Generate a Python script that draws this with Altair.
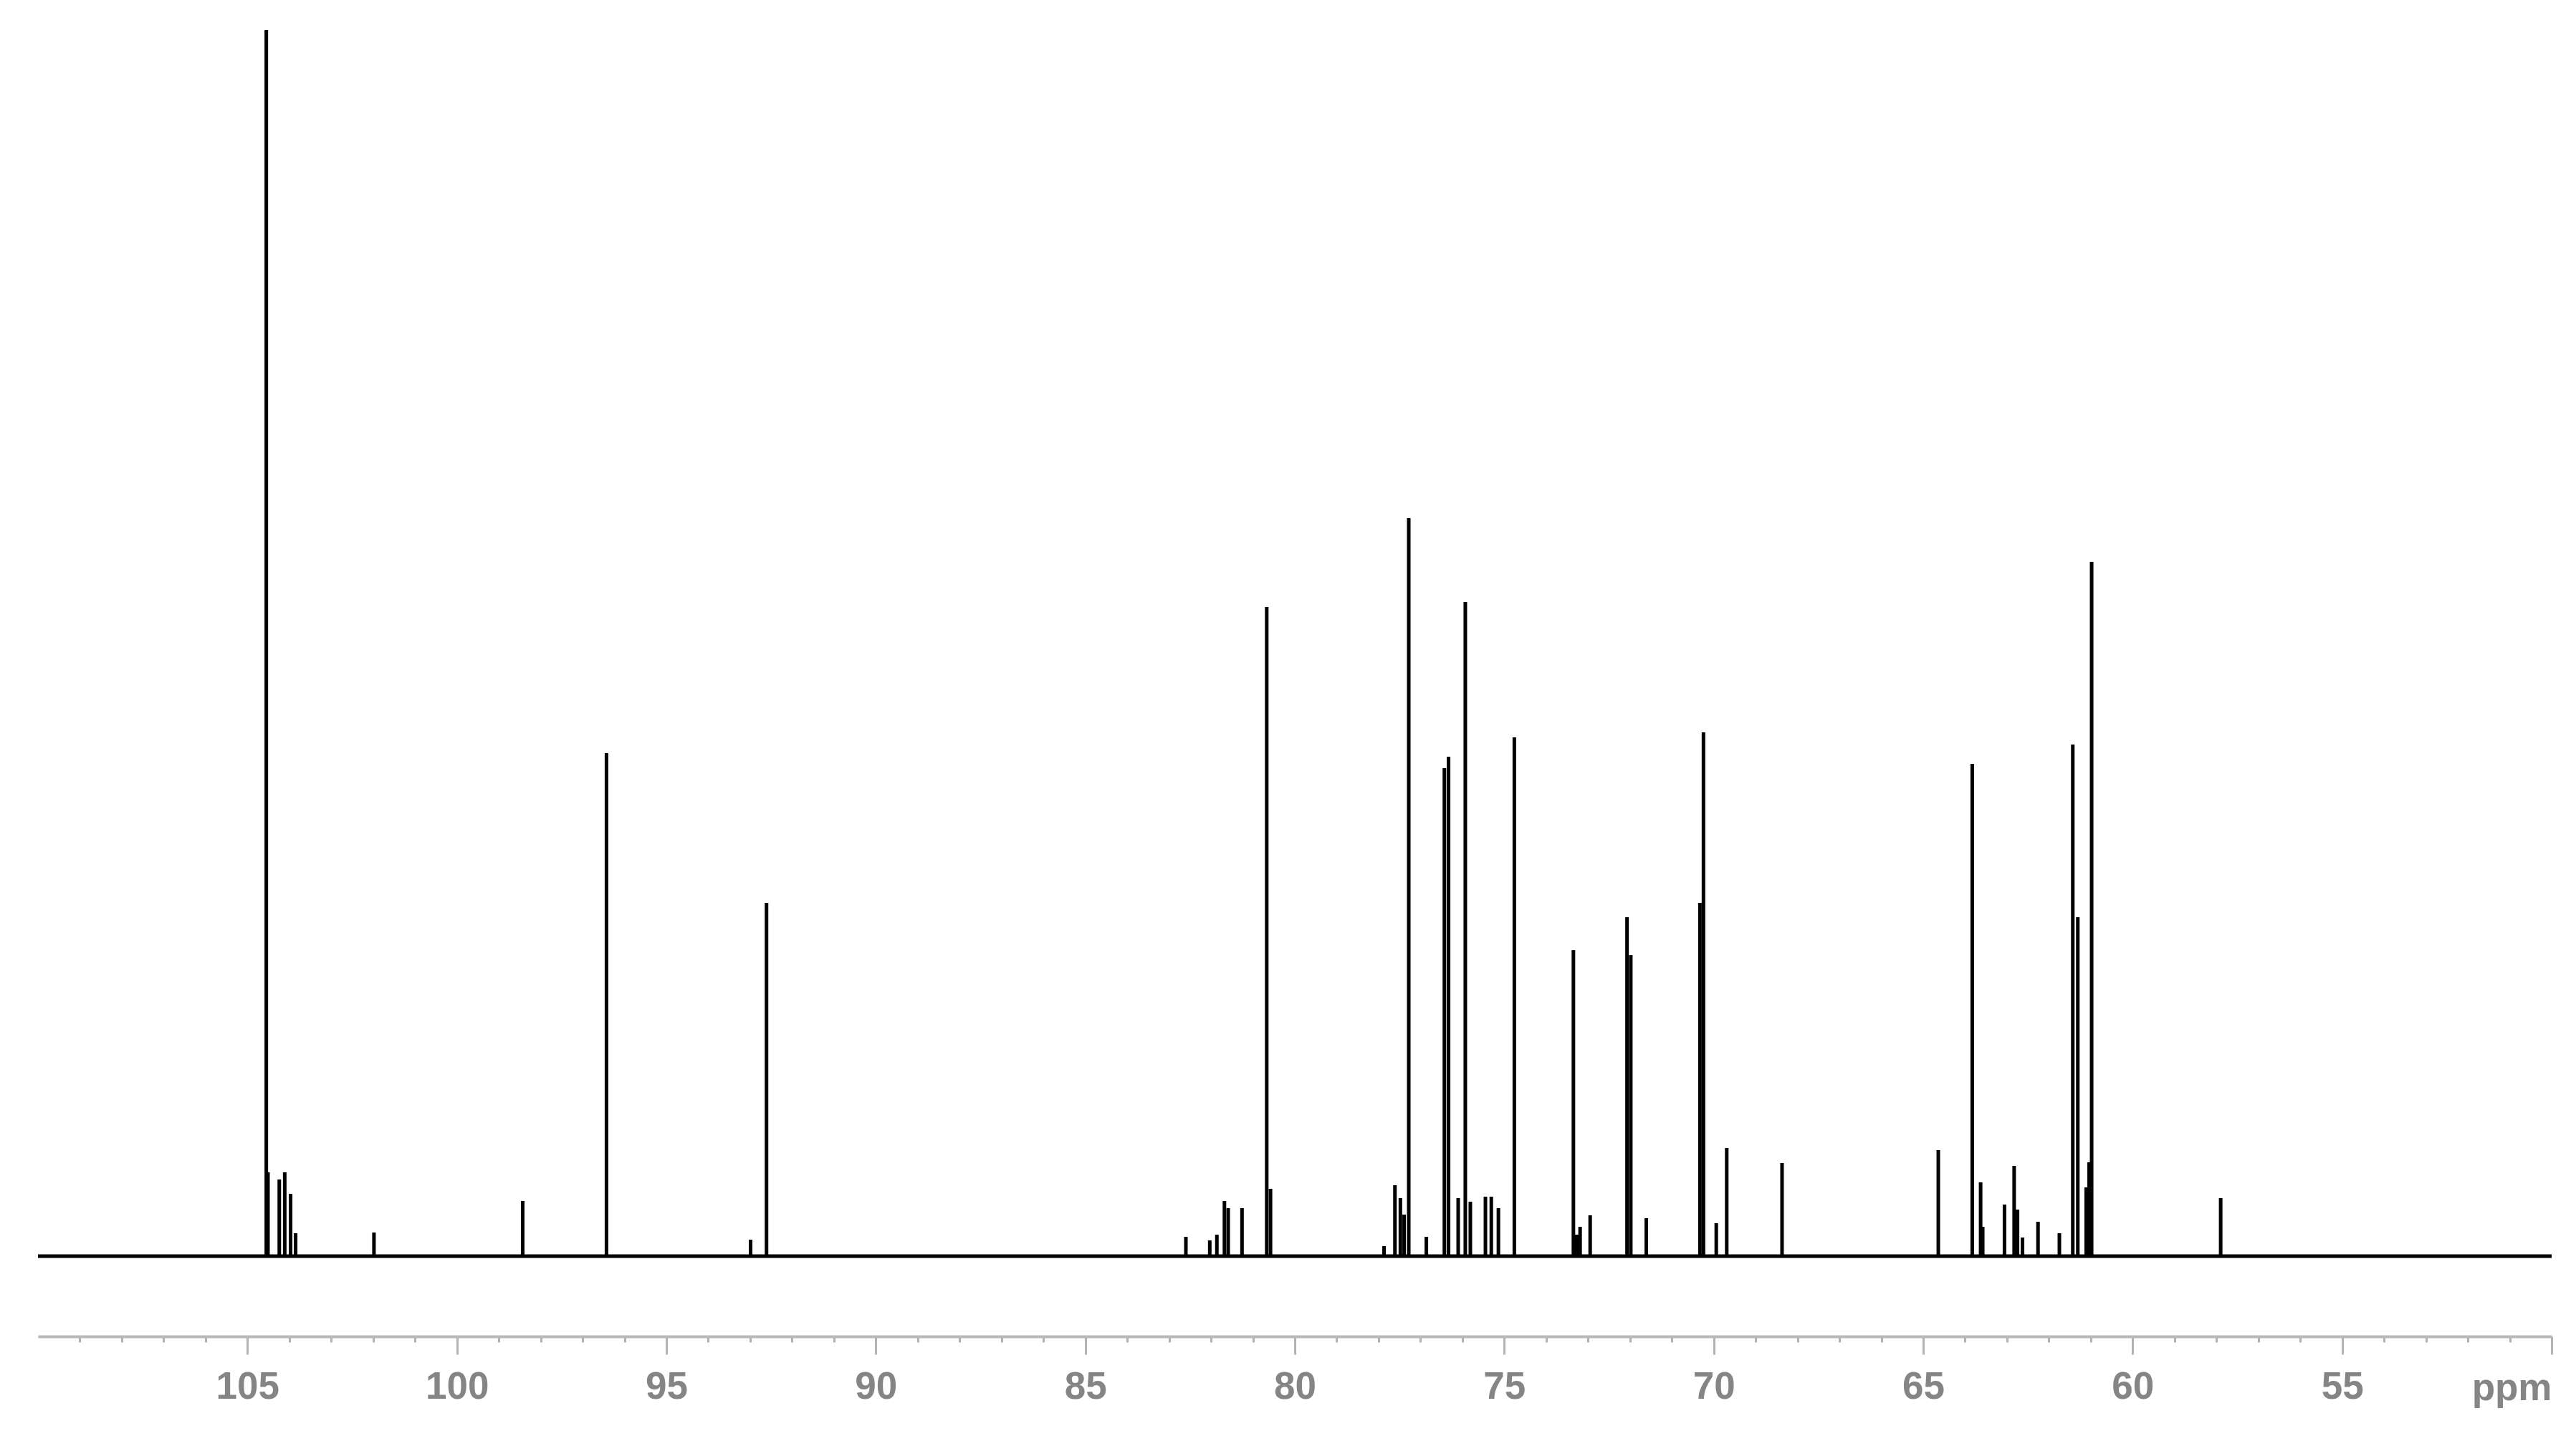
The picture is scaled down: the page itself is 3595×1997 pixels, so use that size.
import altair as alt
import pandas as pd

# 13C NMR peak list (chemical shift in ppm, peak height in a.u.)
PPM = [
    104.55, 104.51, 104.24, 104.11, 103.97, 103.85,
    101.98, 98.43, 96.43, 92.99, 92.61,
    82.60, 82.03, 81.86, 81.68, 81.59, 81.26, 80.67, 80.58,
    77.87, 77.61, 77.48, 77.39, 77.28, 76.86, 76.43, 76.33, 76.10, 75.93, 75.81,
    75.45, 75.31, 75.14, 74.76,
    73.35, 73.27, 73.19, 72.95, 72.07, 71.98, 71.61,
    70.33, 70.245, 69.94, 69.69, 68.37,
    64.64, 63.83, 63.63, 63.58, 63.06, 62.83, 62.75, 62.63, 62.26, 61.75,
    61.43, 61.31, 61.11, 61.04, 60.98, 57.90,
]
INTENSITY = [
    1711, 117, 107, 117, 87, 32,
    33, 77, 702, 23, 493,
    27, 22, 30, 77, 67, 67, 906, 94,
    14, 99, 81, 58, 1030, 27, 681, 697, 81, 913, 76,
    83, 83, 67, 724,
    427, 30, 41, 57, 473, 420, 53,
    493, 731, 46, 151, 130,
    148, 687, 103, 41, 72, 126, 65, 26, 48, 32,
    714, 473, 96, 131, 969, 81,
]

WINDOW_START = [110]   # ppm, left end of spectral window
WINDOW_END = [50]      # ppm, right end
BASELINE = [0]
MAJOR_TICKS = [105, 100, 95, 90, 85, 80, 75, 70, 65, 60, 55, 50]
MINOR_TICKS = list(range(51, 110))

peaks = pd.DataFrame({"ppm": PPM, "intensity": INTENSITY})
window = pd.DataFrame({"start": WINDOW_START, "end": WINDOW_END, "level": BASELINE})

W, H = 3508, 1823
FONT = "Liberation Sans"
GRAY = "#858585"

xscale = alt.Scale(domain=[50, 110], reverse=True, nice=False, zero=False)
yscale = alt.Scale(domain=[-112, 1711], nice=False, zero=False)

major_axis = alt.Axis(
    orient="bottom", values=MAJOR_TICKS, grid=False,
    domain=True, domainColor="#b8b8b8", domainWidth=4,
    ticks=True, tickSize=25, tickWidth=3, tickColor="#b3b3b3",
    labelFont=FONT, labelFontWeight="bold", labelFontSize=53, labelColor=GRAY,
    labelPadding=61, labelBaseline="alphabetic", labelFlush=False, labelOverlap=False,
    labelExpr="datum.value == 50 ? '' : datum.label",
    title="ppm", titleFont=FONT, titleFontWeight="bold", titleFontSize=53,
    titleColor=GRAY, titleAnchor="end", titleAlign="right", titleBaseline="alphabetic",
    titleX=W, titleY=88, titleAngle=0,
)
minor_axis = alt.Axis(
    orient="bottom", values=MINOR_TICKS, grid=False, domain=False,
    ticks=True, tickSize=8, tickWidth=3, tickColor="#b3b3b3",
    labels=False, title=None,
)

sticks = alt.Chart(peaks).mark_rule(color="black", strokeWidth=5, strokeCap="butt").encode(
    x=alt.X("ppm:Q", scale=xscale, axis=major_axis),
    y=alt.Y("intensity:Q", scale=yscale, axis=None),
    y2=alt.datum(0),
)

baseline = alt.Chart(window).mark_rule(color="black", strokeWidth=5).encode(
    x=alt.X("start:Q", scale=xscale, axis=minor_axis),
    x2="end:Q",
    y=alt.Y("level:Q", scale=yscale, axis=None),
)

chart = (
    alt.layer(baseline, sticks)
    .resolve_axis(x="independent")
    .properties(width=W, height=H, padding={"left": 42, "top": 31, "right": 20, "bottom": 20},
                background="white")
    .configure_view(stroke=None)
)

chart.save("out.html", embed_options={"renderer": "svg", "actions": False})
